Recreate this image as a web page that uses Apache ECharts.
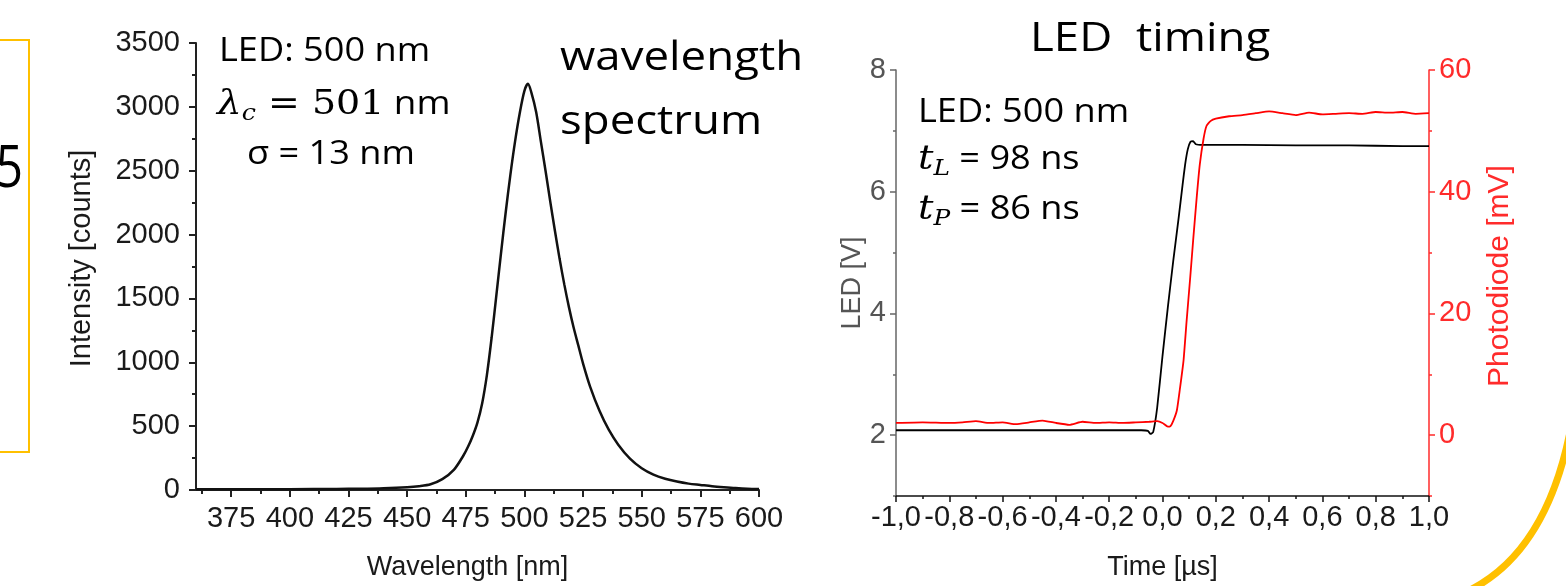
<!DOCTYPE html>
<html><head><meta charset="utf-8">
<script src="https://cdn.jsdelivr.net/npm/echarts@6/dist/echarts.min.js"></script>
<style>html,body{margin:0;padding:0;background:#fff}#c{width:1566px;height:586px}</style>
</head><body><div id="c"></div>
<script>
// ---- Left chart: wavelength spectrum ----
const wavelengthNm = [360,380,400,420,430,440,450,455,460,465,470,474,476,478,480,482,484,486,488,490,492,494,496,498,500,501.5,503,505,507,509,511,513,515,517,519,521,523,525,528,532,536,540,545,550,555,560,565,570,575,580,585,590,595,600];
const intensityCounts = [5,5,6,8,10,14,22,30,45,85,160,270,340,425,530,680,900,1190,1518,1851,2171,2466,2728,2950,3125,3180,3110,2960,2730,2500,2260,2030,1810,1610,1430,1270,1130,990,810,620,470,355,245,170,120,88,66,50,40,30,22,15,10,8];
const wlMajorTicks = [375,400,425,450,475,500,525,550,575,600];
const wlMinorTicks = [362.5,387.5,412.5,437.5,462.5,487.5,512.5,537.5,562.5,587.5];

// ---- Right chart: LED timing ----
const ledTimeUs = [-1.0,-0.8,-0.6,-0.4,-0.2,-0.08,-0.055,-0.045,-0.035,-0.02,0.0,0.02,0.04,0.06,0.075,0.085,0.095,0.105,0.115,0.125,0.15,0.3,0.5,0.7,0.9,1.0];
const ledVolts = [2.08,2.08,2.08,2.08,2.08,2.08,2.07,2.02,2.05,2.45,3.3,4.1,4.85,5.55,6.1,6.45,6.7,6.82,6.83,6.78,6.77,6.77,6.76,6.76,6.75,6.75];
const pdTimeUs = [-1.0,-0.9,-0.8,-0.75,-0.7,-0.65,-0.6,-0.55,-0.5,-0.45,-0.4,-0.35,-0.3,-0.25,-0.2,-0.15,-0.1,-0.05,-0.02,0.0,0.02,0.03,0.04,0.054,0.065,0.079,0.09,0.104,0.115,0.129,0.14,0.154,0.165,0.18,0.2,0.25,0.3,0.35,0.4,0.45,0.5,0.55,0.6,0.65,0.7,0.75,0.8,0.85,0.9,0.95,1.0];
const photodiodeMv = [2.0,2.1,2.0,2.1,2.3,2.0,2.1,1.8,2.1,2.4,2.0,1.7,2.2,2.0,2.1,2.0,2.1,2.2,2.3,2.0,1.4,1.5,2.3,4.1,7.5,12.3,18.5,25.9,32,39.4,44.5,48.7,50.8,51.6,52.0,52.4,52.6,52.9,53.2,52.9,52.6,53.0,52.7,52.8,52.9,52.8,53.1,53.0,53.1,52.8,52.9];
const ledMajorTicks = [2,4,6,8];
const pdMajorTicks = [0,20,40,60];

const zip = (a, b) => a.map((v, i) => [v, b[i]]);
const SANS = 'Liberation Sans';
const CAL = 'Open Sans';
const SERIF = 'DejaVu Serif';
const RED = '#ff2b2b';
const FS = 29;

const chart = echarts.init(document.getElementById('c'), null, {renderer: 'canvas'});

function txt(x, y, text, size, sx, extra) {
  return Object.assign({
    type: 'text', x: x, y: y, scaleX: sx || 1.13, scaleY: 1,
    style: {text: text, fontSize: size, fontFamily: CAL, fill: '#000',
      align: 'left', verticalAlign: 'middle', textAlign: 'left', textVerticalAlign: 'middle'}
  }, extra || {});
}
function richTxt(x, y, text, rich, sx) {
  return {
    type: 'text', x: x, y: y, scaleX: sx || 1.13, scaleY: 1,
    style: {text: text, rich: rich, fill: '#000',
      align: 'left', verticalAlign: 'middle', textAlign: 'left', textVerticalAlign: 'middle'}
  };
}
const mathRich = {
  i: {fontSize: 34, fontStyle: 'italic', fontFamily: SERIF, lineHeight: 40, fill: '#000'},
  s: {fontSize: 22, fontStyle: 'italic', fontFamily: SERIF, lineHeight: 22, verticalAlign: 'bottom', fill: '#000'},
  m: {fontSize: 33, fontFamily: SERIF, lineHeight: 40, fill: '#000'},
  r: {fontSize: 32, fontFamily: CAL, lineHeight: 40, fill: '#000'}
};
const plain = v => String(v);

const option = {
  animation: false,
  backgroundColor: '#fff',
  textStyle: {fontFamily: SANS},
  grid: [
    {left: 196, top: 43, width: 563, height: 452, containLabel: false},
    {left: 896, top: 70, width: 533, height: 432, containLabel: false}
  ],
  xAxis: [
    {gridIndex: 0, type: 'value', position: 'bottom', min: 360, max: 600,
      name: 'Wavelength [nm]', nameLocation: 'middle', nameGap: 64,
      nameTextStyle: {fontSize: 27, color: '#1a1a1a', fontFamily: SANS, padding: [0, 20, 0, 0]},
      axisLine: {show: true, onZero: false, lineStyle: {color: '#222', width: 2}},
      axisTick: {show: true, customValues: wlMajorTicks, length: 7, lineStyle: {color: '#222', width: 2}},
      axisLabel: {customValues: wlMajorTicks, fontSize: FS, color: '#1a1a1a', margin: 14, fontFamily: SANS, formatter: plain},
      splitLine: {show: false}},
    {gridIndex: 0, type: 'value', position: 'bottom', min: 360, max: 600,
      axisLine: {show: false, onZero: false},
      axisTick: {show: true, customValues: wlMinorTicks, length: 4, lineStyle: {color: '#222', width: 2}},
      axisLabel: {show: false}, splitLine: {show: false}},
    {gridIndex: 1, type: 'value', position: 'bottom', min: -1, max: 1, interval: 0.2,
      name: 'Time [\u00b5s]', nameLocation: 'middle', nameGap: 58,
      nameTextStyle: {fontSize: 27, color: '#1a1a1a', fontFamily: SANS},
      axisLine: {show: true, onZero: false, lineStyle: {color: '#111', width: 1.5}},
      axisTick: {show: true, length: 6, lineStyle: {color: '#111', width: 1.5}},
      minorTick: {show: true, splitNumber: 2, length: 3, lineStyle: {color: '#111', width: 1.5}},
      axisLabel: {fontSize: FS, color: '#1a1a1a', margin: 7, fontFamily: SANS,
        formatter: v => (Math.abs(v) < 1e-9 ? 0 : v).toFixed(1).replace('.', ',')},
      splitLine: {show: false}}
  ],
  yAxis: [
    {gridIndex: 0, type: 'value', position: 'left', min: 0, max: 3500, interval: 500,
      name: 'Intensity [counts]', nameLocation: 'middle', nameGap: 100,
      nameTextStyle: {fontSize: 29, color: '#1a1a1a', fontFamily: SANS, padding: [0, 0, 0, 16]},
      axisLine: {show: true, onZero: false, lineStyle: {color: '#222', width: 2}},
      axisTick: {show: true, length: 7, lineStyle: {color: '#222', width: 2}},
      minorTick: {show: true, splitNumber: 2, length: 4, lineStyle: {color: '#222', width: 2}},
      axisLabel: {fontSize: FS, color: '#1a1a1a', margin: 16, fontFamily: SANS, formatter: plain},
      splitLine: {show: false}},
    {gridIndex: 1, type: 'value', position: 'left', min: 1, max: 8,
      name: 'LED [V]', nameLocation: 'middle', nameGap: 28,
      nameTextStyle: {fontSize: 27, color: '#555', fontFamily: SANS},
      axisLine: {show: true, onZero: false, lineStyle: {color: '#666', width: 1.5}},
      axisTick: {show: true, customValues: ledMajorTicks, length: 6, lineStyle: {color: '#666', width: 1.5}},
      axisLabel: {customValues: ledMajorTicks, fontSize: FS, color: '#555', margin: 10, fontFamily: SANS},
      splitLine: {show: false}},
    {gridIndex: 1, type: 'value', position: 'left', min: 1, max: 8, interval: 1,
      axisLine: {show: false, onZero: false},
      axisTick: {show: true, length: 3, lineStyle: {color: '#666', width: 1.5}},
      axisLabel: {show: false}, splitLine: {show: false}},
    {gridIndex: 1, type: 'value', position: 'right', min: -10, max: 60,
      name: 'Photodiode [mV]', nameLocation: 'middle', nameGap: 56,
      nameTextStyle: {fontSize: 30, color: RED, fontFamily: SANS, padding: [0, 0, 0, 14]},
      axisLine: {show: true, onZero: false, lineStyle: {color: RED, width: 1.5}},
      axisTick: {show: true, customValues: pdMajorTicks, length: 6, lineStyle: {color: RED, width: 1.5}},
      axisLabel: {customValues: pdMajorTicks, fontSize: FS, color: RED, margin: 10, fontFamily: SANS},
      splitLine: {show: false}},
    {gridIndex: 1, type: 'value', position: 'right', min: -10, max: 60, interval: 10,
      axisLine: {show: false, onZero: false},
      axisTick: {show: true, length: 3, lineStyle: {color: RED, width: 1.5}},
      axisLabel: {show: false}, splitLine: {show: false}}
  ],
  series: [
    {type: 'line', xAxisIndex: 0, yAxisIndex: 0, data: zip(wavelengthNm, intensityCounts),
      smooth: 0.3, showSymbol: false, lineStyle: {color: '#111', width: 2.5}, z: 3},
    {type: 'line', xAxisIndex: 2, yAxisIndex: 1, data: zip(ledTimeUs, ledVolts),
      smooth: 0.15, showSymbol: false, lineStyle: {color: '#000', width: 1.8}, z: 3},
    {type: 'line', xAxisIndex: 2, yAxisIndex: 3, data: zip(pdTimeUs, photodiodeMv),
      smooth: 0.15, showSymbol: false, lineStyle: {color: '#ff0000', width: 1.8}, z: 4}
  ],
  graphic: [
    {type: 'rect', shape: {x: -10, y: 40, width: 39, height: 412},
      style: {fill: 'none', stroke: '#FFC000', lineWidth: 2}},
    {type: 'text', x: 23, y: 170, scaleX: 0.82, scaleY: 1,
      style: {text: '5', fontSize: 58, fontFamily: CAL, fill: '#000',
        align: 'right', verticalAlign: 'middle', textAlign: 'right', textVerticalAlign: 'middle'}},
    {type: 'bezierCurve', shape: {x1: 1570, y1: 432, x2: 1466, y2: 592, cpx1: 1545, cpy1: 555},
      style: {fill: 'none', stroke: '#FFC000', lineWidth: 7}},
    txt(219, 52, 'LED: 500 nm', 32),
    richTxt(217, 105, '{i|\u03bb}{s|c}{m| = 501}{r| nm}', mathRich, 1.15),
    txt(247, 155, '\u03c3 = 13 nm', 32),
    txt(560, 59, 'wavelength', 40, 1.14),
    txt(560, 123, 'spectrum', 40, 1.14),
    txt(1030, 40, 'LED  timing', 40, 1.14),
    txt(918, 113, 'LED: 500 nm', 32),
    richTxt(918, 160, '{i|t}{s|L}{r| = 98 ns}', mathRich),
    richTxt(918, 210, '{i|t}{s|P}{r| = 86 ns}', mathRich)
  ]
};
chart.setOption(option);
</script>
</body></html>
